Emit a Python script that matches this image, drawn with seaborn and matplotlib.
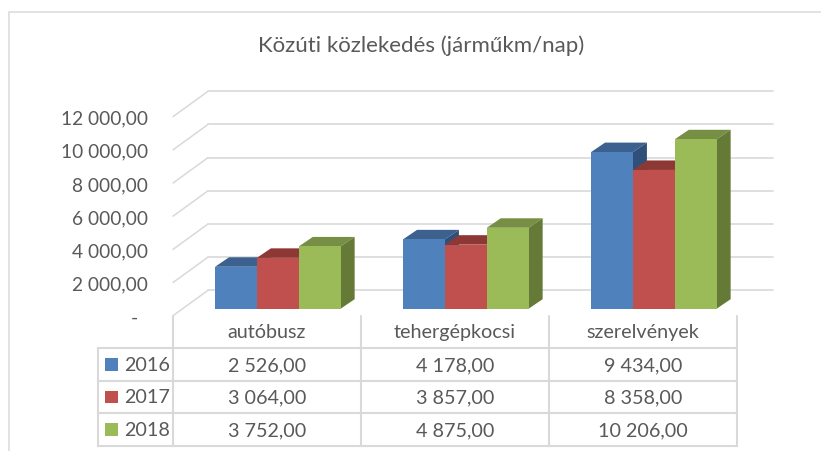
import pandas as pd
import matplotlib.pyplot as plt
import seaborn as sns
from matplotlib.lines import Line2D
from matplotlib.patches import Polygon, Rectangle

categories = ['autóbusz', 'tehergépkocsi', 'szerelvények']
years = ['2016', '2017', '2018']
values_2016 = [2526, 4178, 9434]
values_2017 = [3064, 3857, 8358]
values_2018 = [3752, 4875, 10206]
y_ticks = [0, 2000, 4000, 6000, 8000, 10000, 12000]

front_colors = ['#4f81bd', '#c0504d', '#9bbb59']
top_colors = ['#3c618f', '#8e3836', '#778f44']
side_colors = ['#30507a', '#7a2f2d', '#657a37']
line_color = '#d9d9d9'
text_color = '#595959'


def fmt(v):
    # Hungarian style: space as thousands separator, comma as decimal mark
    return f'{v:,.2f}'.replace(',', ' ').replace('.', ',')


df = pd.DataFrame({
    'kategoria': categories * 3,
    'ev': [y for y in years for _ in categories],
    'ertek': values_2016 + values_2017 + values_2018,
})

W, H = 821, 452
sns.set_theme(style='white')
plt.rcParams['font.family'] = ['Lato', 'DejaVu Sans']
fig = plt.figure(figsize=(W / 100, H / 100), dpi=100, facecolor='white')


def axes_px(left, top, right, bottom):
    return fig.add_axes([left / W, 1 - bottom / H, (right - left) / W, (bottom - top) / H])


# Outer frame of the chart area
fig.add_artist(Line2D([9 / W, 9 / W], [0, 1 - 13 / H], color='#e2e2e2', lw=1.4))
fig.add_artist(Line2D([9 / W, 1], [1 - 13 / H, 1 - 13 / H], color='#e2e2e2', lw=1.4))

fig.text(421 / W, 1 - 46 / H, 'Közúti közlekedés (járműkm/nap)', ha='center', va='center',
         fontsize=16, color=text_color)

# Wall with the value axis: x in pixels from the front corner, y in data units
per_unit = 33.2 / 2000
back_dy = 25.4 / per_unit
wall = axes_px(173, 92.3, 773, 316.7)
wall.set_xlim(0, 600)
wall.set_ylim(0, 12000 + back_dy)
for v in y_ticks:
    wall.plot([0, 35], [v, v + back_dy], color=line_color, lw=1.1, clip_on=False)
    wall.plot([35, 600], [v + back_dy, v + back_dy], color=line_color, lw=1.2, clip_on=False)
sns.despine(ax=wall, left=True, bottom=True)
wall.patch.set_alpha(0)
wall.set_xticks([])
wall.set_yticks(y_ticks)
wall.set_yticklabels([fmt(v) if v else '-' for v in y_ticks], fontsize=13.8, color=text_color)
wall.tick_params(axis='y', length=0, pad=18)
# the dash of the accounting format sits further left
wall.get_yticklabels()[0].set_x(-0.017)
wall.set_xlabel('')

# Bars: front faces from seaborn, depth faces added from the same patches
ax = axes_px(183.85, 92, 747.85, 309.7)
sns.barplot(data=df, x='kategoria', y='ertek', hue='ev', palette=front_colors, width=0.668,
            gap=0, saturation=1, legend=False, ax=ax, order=categories, hue_order=years,
            edgecolor='none', linewidth=0)
ax.set_xlim(-0.5, 2.5)
ax.set_ylim(0, 217.7 / per_unit)
ax.axis('off')
ax.set_zorder(3)

dx = 14 / 188
dy = 9.5 / per_unit
bars = sorted(ax.patches, key=lambda p: p.get_x())
for i, p in enumerate(bars):
    x, w, h = p.get_x(), p.get_width(), p.get_height()
    s = i % 3
    z = 3 + i * 2
    ax.add_patch(Polygon([(x, h), (x + w, h), (x + w + dx, h + dy), (x + dx, h + dy)],
                         facecolor=top_colors[s], edgecolor='none', zorder=z, clip_on=False))
    ax.add_patch(Polygon([(x + w, 0), (x + w + dx, dy), (x + w + dx, h + dy), (x + w, h)],
                         facecolor=side_colors[s], edgecolor='none', zorder=z, clip_on=False))
    p.set_zorder(z + 1)

# Data table under the bars
head = 75 / 188.3
tb = axes_px(98, 316.7, 737.3, 446.7)
tb.set_xlim(-head, 3)
tb.set_ylim(4, 0)
tb.axis('off')
for r in range(1, 5):
    tb.plot([-head, 3], [r, r], color=line_color, lw=1.5, clip_on=False)
for c in range(4):
    tb.plot([c, c], [0, 4], color=line_color, lw=1.5, clip_on=False)
tb.plot([-head, -head], [1, 4], color=line_color, lw=1.5, clip_on=False)

for c, name in enumerate(categories):
    tb.text(c + 0.5, 0.5, name, ha='center', va='center', fontsize=14.2, color=text_color)
series = [values_2016, values_2017, values_2018]
for r, (year, vals) in enumerate(zip(years, series)):
    tb.add_patch(Rectangle((-head + 7 / 188.3, r + 1.31), 13 / 188.3, 0.38,
                           facecolor=front_colors[r], edgecolor='none'))
    tb.text(-head + 26 / 188.3, r + 1.5, year, ha='left', va='center', fontsize=14.2, color=text_color)
    for c, v in enumerate(vals):
        tb.text(c + 0.5, r + 1.5, fmt(v), ha='center', va='center', fontsize=14.2, color=text_color)

plt.savefig('out.png', dpi=100)
